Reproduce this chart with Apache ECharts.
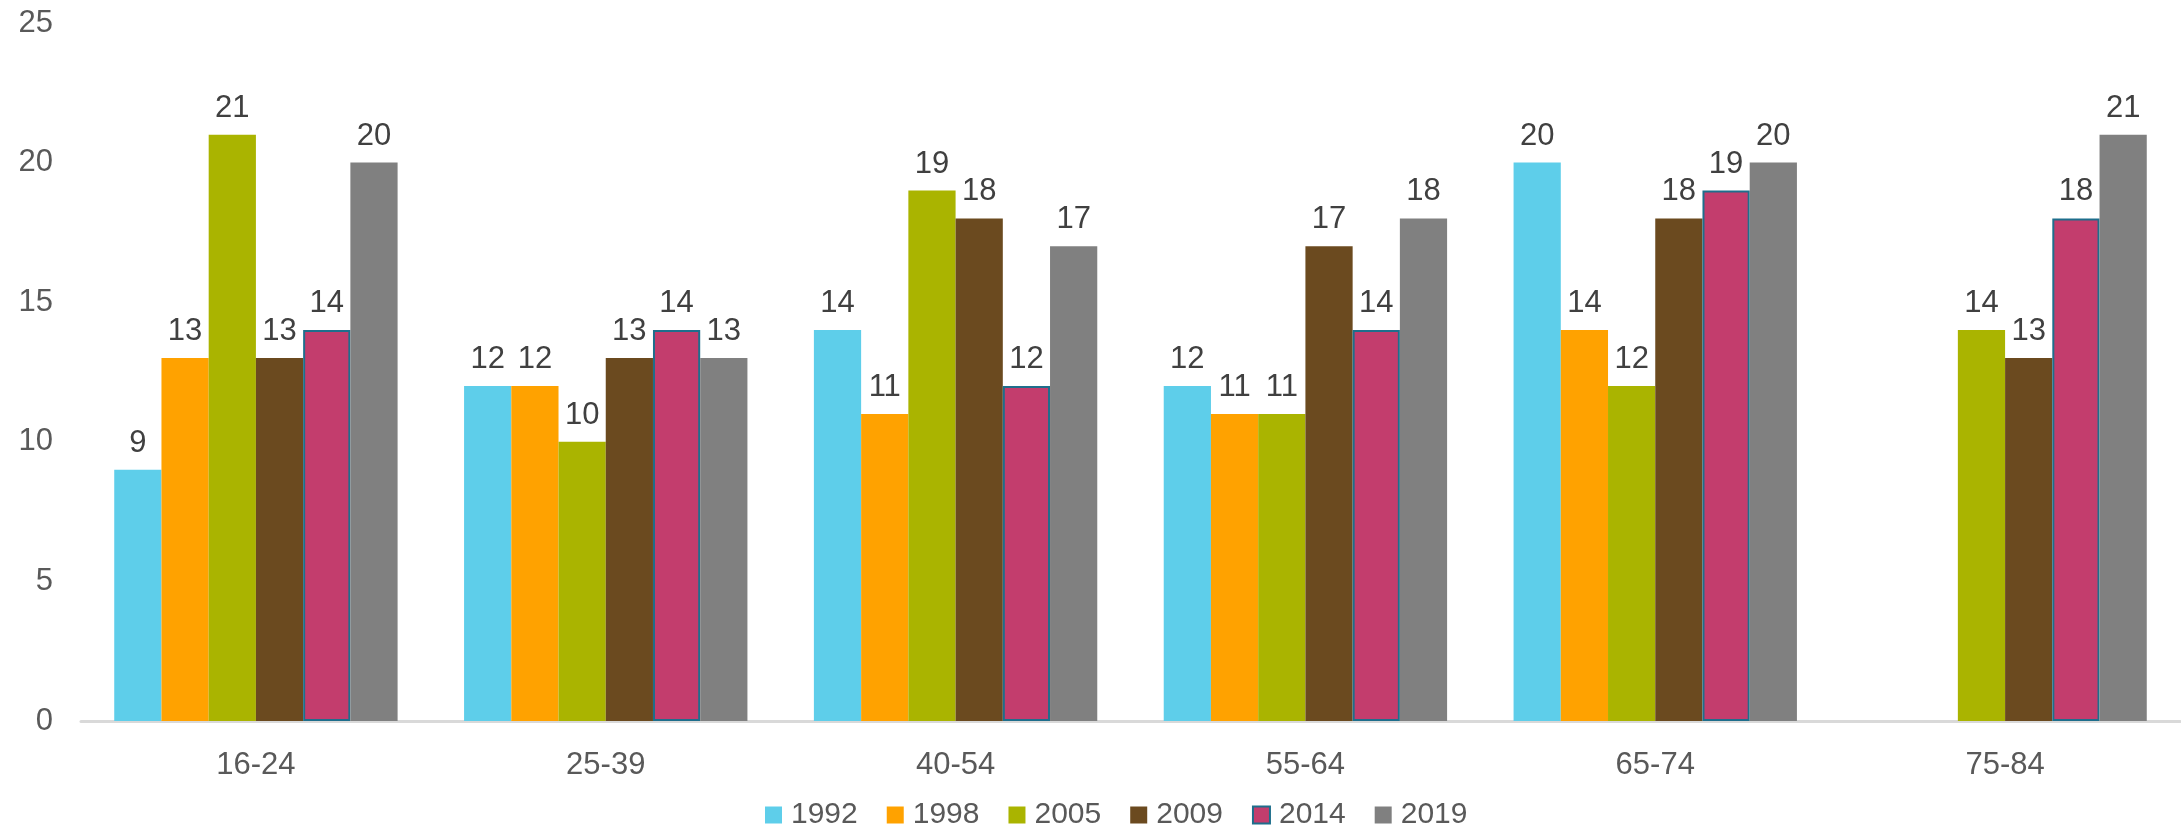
<!DOCTYPE html>
<html>
<head>
<meta charset="utf-8">
<script src="https://cdn.jsdelivr.net/npm/echarts@6/dist/echarts.min.js"></script>
<style>
html,body{margin:0;padding:0;background:#fff;}
#chart{width:2181px;height:829px;}
</style>
</head>
<body>
<div id="chart"></div>
<script>
var categories = ['16-24','25-39','40-54','55-64','65-74','75-84'];
var seriesNames = ['1992','1998','2005','2009','2014','2019'];
var v1992 = [9,12,14,12,20,null];
var v1998 = [13,12,11,11,14,null];
var v2005 = [21,10,19,11,12,14];
var v2009 = [13,13,18,17,18,13];
var v2014 = [14,14,12,14,19,18];
var v2019 = [20,13,17,18,20,21];
var yTicks = {min:0, max:25, interval:5};

var colors = ['#5ECEEA','#FFA200','#AAB400','#6B4A1F','#C33D6D','#808080'];
var borders = [null,null,null,null,'#1E6E8C',null];
var values = [v1992,v1998,v2005,v2009,v2014,v2019];

var font = 'Liberation Sans, Arial, sans-serif';
var series = seriesNames.map(function(n,i){
  var s = {
    name:n, type:'bar', data:values[i],
    barGap:'0%', barCategoryGap:'19%',
    itemStyle:{color:colors[i]},
    label:{show:true, position:'top', distance:11, color:'#404040', fontSize:31, fontFamily:font},
    emphasis:{disabled:true}
  };
  if(borders[i]){ s.itemStyle.borderColor = borders[i]; s.itemStyle.borderWidth = 2; }
  return s;
});

var chart = echarts.init(document.getElementById('chart'));
chart.setOption({
  animation:false,
  color:colors,
  grid:{left:81, right:1, top:23, bottom:108, containLabel:false},
  legend:{
    top:795, left:760,
    itemWidth:17, itemHeight:17, itemGap:29,
    icon:'rect',
    textStyle:{color:'#595959', fontSize:30, fontFamily:font, padding:[0,0,0,4]},
    data:seriesNames.map(function(n,i){
      var o = {name:n};
      if(borders[i]) o.itemStyle = {borderColor:borders[i], borderWidth:2};
      return o;
    })
  },
  xAxis:{
    type:'category', data:categories,
    axisLine:{lineStyle:{color:'#D9D9D9', width:3}},
    axisTick:{show:false},
    axisLabel:{color:'#595959', fontSize:31, fontFamily:font, margin:29}
  },
  yAxis:{
    type:'value', min:yTicks.min, max:yTicks.max, interval:yTicks.interval,
    axisLine:{show:false}, axisTick:{show:false},
    splitLine:{show:false},
    axisLabel:{color:'#595959', fontSize:31, fontFamily:font, margin:28}
  },
  series:series
});
</script>
</body>
</html>
